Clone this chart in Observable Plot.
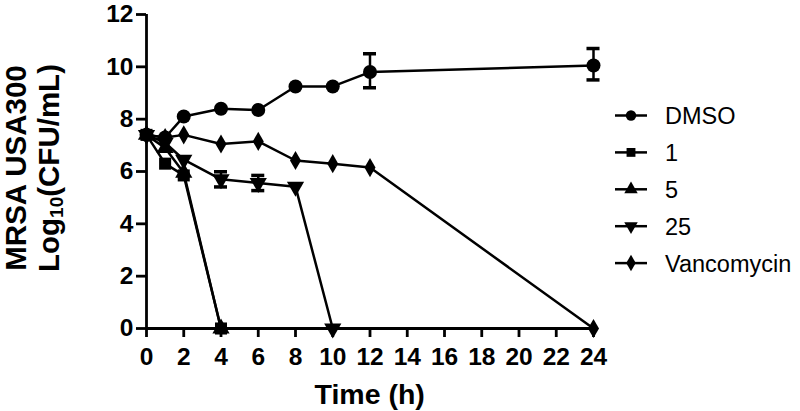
<!DOCTYPE html>
<html>
<head>
<meta charset="utf-8">
<script src="https://cdn.jsdelivr.net/npm/d3@7"></script>
<script src="https://cdn.jsdelivr.net/npm/@observablehq/plot@0.6"></script>
<style>
  html, body { margin: 0; padding: 0; background: #fff; }
  #wrap { position: relative; width: 800px; height: 411px; overflow: hidden; font-family: "Liberation Sans", Arial, sans-serif; }
  #wrap svg.plot { position: absolute; left: 0; top: 0; }
  .ytitle { position: absolute; font-weight: bold; font-size: 29.5px; color: #000; white-space: nowrap;
            transform-origin: center center; text-align: center; line-height: 33px; }
  .xtitle { position: absolute; font-weight: bold; font-size: 28.5px; color: #000; white-space: nowrap; line-height: 1; }
  #legend { position: absolute; left: 0; top: 0; }
</style>
</head>
<body>
<div id="wrap"></div>
<script>
// ---- data ----
const seriesNames = ["DMSO", "1", "5", "25", "Vancomycin"];
const seriesSymbols = ["circle", "square", "triangle", "triangle-down", "diamond"];

const dmsoTimes = [0, 1, 2, 4, 6, 8, 10, 12, 24];
const dmsoValues = [7.4, 7.3, 8.1, 8.4, 8.35, 9.25, 9.25, 9.8, 10.05];

const c1Times = [0, 1, 2, 4];
const c1Values = [7.4, 6.3, 5.85, 0];

const c5Times = [0, 1, 2, 4];
const c5Values = [7.4, 6.9, 5.95, 0];

const c25Times = [0, 1, 2, 4, 6, 8, 10];
const c25Values = [7.4, 7.1, 6.45, 5.7, 5.56, 5.42, 0];

const vancoTimes = [0, 1, 2, 4, 6, 8, 10, 12, 24];
const vancoValues = [7.4, 7.3, 7.4, 7.05, 7.15, 6.42, 6.3, 6.15, 0];

// error bars (series, time, mean, sd)
const errSeries = ["DMSO", "DMSO", "25", "25"];
const errTimes = [12, 24, 4, 6];
const errMeans = [9.85, 10.1, 5.7, 5.56];
const errSD = [0.65, 0.6, 0.29, 0.29];

const xTicks = [0, 2, 4, 6, 8, 10, 12, 14, 16, 18, 20, 22, 24];
const yTicks = [0, 2, 4, 6, 8, 10, 12];

// ---- build table ----
const seriesTimes = [dmsoTimes, c1Times, c5Times, c25Times, vancoTimes];
const seriesValues = [dmsoValues, c1Values, c5Values, c25Values, vancoValues];
const rows = [];
seriesNames.forEach((name, i) => {
  seriesTimes[i].forEach((t, j) => rows.push({series: name, time: t, value: seriesValues[i][j]}));
});
const errs = errSeries.map((s, i) => ({series: s, time: errTimes[i], lo: errMeans[i] - errSD[i], hi: errMeans[i] + errSD[i]}));
const capHalf = 0.35;

const markerR = {circle: 7, square: 6.8, triangle: 6.4, "triangle-down": 6.4, diamond: 5.8};
const symbolName = {circle: "circle", square: "square", triangle: "triangle", "triangle-down": "triangle", diamond: "diamond"};

const W = 800, H = 411;
const mL = 146, mR = 207, mT = 14, mB = 83;

// draw order: the square series on top, as in the original
const drawOrder = ["DMSO", "Vancomycin", "25", "5", "1"];
const dotMarks = drawOrder.map(name => {
  const k = seriesSymbols[seriesNames.indexOf(name)];
  return Plot.dot(rows.filter(d => d.series === name), {
    x: "time", y: "value", symbol: symbolName[k], r: markerR[k],
    rotate: k === "triangle-down" ? 180 : 0, fill: "#000", stroke: "none"
  });
});

const plot = Plot.plot({
  width: W, height: H,
  marginLeft: mL, marginRight: mR, marginTop: mT, marginBottom: mB,
  style: {fontFamily: '"Liberation Sans", Arial, sans-serif', fontSize: "24.5px", fontWeight: "bold", color: "#000", background: "#fff", overflow: "visible"},
  x: {domain: [0, 24], ticks: xTicks, tickSize: 9, tickPadding: 10, label: null, tickFormat: d => String(d)},
  y: {domain: [0, 12], ticks: yTicks, tickSize: 10, tickPadding: 3, label: null, tickFormat: d => String(d)},
  marks: [
    Plot.ruleX([0], {y1: 0, y2: 12, stroke: "#000", strokeWidth: 2.8}),
    Plot.ruleY([0], {x1: 0, x2: 24, stroke: "#000", strokeWidth: 2.8}),
    Plot.line(rows, {x: "time", y: "value", z: "series", stroke: "#000", strokeWidth: 2.5}),
    Plot.ruleX(errs, {x: "time", y1: "lo", y2: "hi", stroke: "#000", strokeWidth: 2.5}),
    Plot.ruleY(errs, {y: "lo", x1: d => d.time - capHalf, x2: d => d.time + capHalf, stroke: "#000", strokeWidth: 3.5}),
    Plot.ruleY(errs, {y: "hi", x1: d => d.time - capHalf, x2: d => d.time + capHalf, stroke: "#000", strokeWidth: 3.5}),
    ...dotMarks
  ]
});
plot.classList.add("plot");
const wrap = document.getElementById("wrap");
wrap.appendChild(plot);

// style axis ticks
d3.select(plot).selectAll('[aria-label^="x-axis"] line, [aria-label^="y-axis"] line, [aria-label^="x-axis"] path, [aria-label^="y-axis"] path')
  .attr("stroke-width", 2.8).attr("stroke", "#000");

// ---- axis titles ----
const xs = d3.scaleLinear().domain([0, 24]).range([mL, W - mR]);

const xt = document.createElement("div");
xt.className = "xtitle";
xt.textContent = "Time (h)";
wrap.appendChild(xt);
xt.style.left = ((xs(0) + xs(24)) / 2 - xt.offsetWidth / 2) + "px";
xt.style.top = "380px";

const yt = document.createElement("div");
yt.className = "ytitle";
yt.innerHTML = "MRSA USA300<br>Log<sub style='font-size:19px;vertical-align:-4px;line-height:0'>10</sub>(CFU/mL)";
wrap.appendChild(yt);
const cx = 32, cy = 168;
yt.style.left = (cx - yt.offsetWidth / 2) + "px";
yt.style.top = (cy - yt.offsetHeight / 2) + "px";
yt.style.transform = "rotate(-90deg)";

// ---- legend ----
const leg = d3.select(wrap).append("svg").attr("id", "legend").attr("width", W).attr("height", H);
const legY0 = 115.5, legDy = 36.9, legX0 = 615, legX1 = 647, legTx = 665;
seriesNames.forEach((name, i) => {
  const y = legY0 + i * legDy;
  const g = leg.append("g");
  g.append("line").attr("x1", legX0).attr("x2", legX1).attr("y1", y).attr("y2", y).attr("stroke", "#000").attr("stroke-width", 2.5);
  const k = seriesSymbols[i];
  const typ = {circle: d3.symbolCircle, square: d3.symbolSquare, triangle: d3.symbolTriangle, "triangle-down": d3.symbolTriangle, diamond: d3.symbolDiamond}[k];
  const r = k === "circle" ? 5.2 : 5;
  g.append("path").attr("d", d3.symbol(typ, Math.PI * r * r)())
    .attr("transform", `translate(${(legX0 + legX1) / 2},${y}) rotate(${k === "triangle-down" ? 180 : 0})`)
    .attr("fill", "#000");
  g.append("text").attr("x", legTx).attr("y", y).attr("dy", "0.36em")
    .attr("font-family", '"Liberation Sans", Arial, sans-serif').attr("font-size", 23.5).attr("fill", "#000")
    .text(name);
});
</script>
</body>
</html>
